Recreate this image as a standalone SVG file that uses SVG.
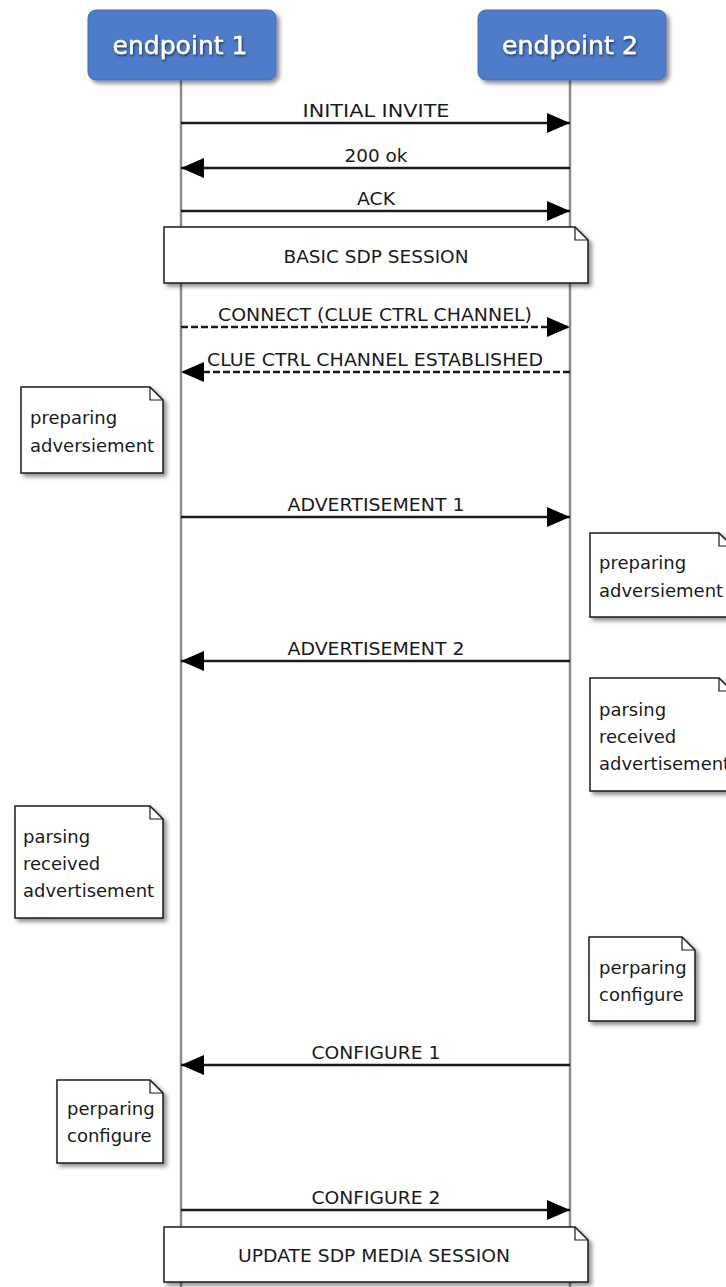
<svg xmlns="http://www.w3.org/2000/svg" width="726" height="1287" viewBox="0 0 726 1287">
<style>
.bg{fill:#ffffff}
.actor{fill:#4f7bc8;stroke:#4670b8;stroke-width:1}
.atext{font-family:"DejaVu Sans",sans-serif;font-size:25px;fill:#ffffff;stroke:#ffffff;stroke-width:0.4;text-anchor:middle}
.life{stroke:#8c8c8c;stroke-width:2.5;fill:none}
.msg{stroke:#1a1a1a;stroke-width:2.5;fill:none}
.dash{stroke-dasharray:7,3}
.lbl{font-family:"DejaVu Sans",sans-serif;font-size:18px;fill:#1a1a1a;text-anchor:middle}
.note{fill:#ffffff;stroke:#1a1a1a;stroke-width:1.5}
.fold{fill:none;stroke:#1a1a1a;stroke-width:1.2}
.ntext{font-family:"DejaVu Sans",sans-serif;font-size:18px;fill:#1a1a1a}
</style>
<defs>
<filter id="shadow" x="-10%" y="-10%" width="130%" height="140%">
<feDropShadow dx="3" dy="3" stdDeviation="2" flood-color="#000000" flood-opacity="0.45"/>
</filter>
<filter id="tshadow" x="-10%" y="-20%" width="120%" height="150%">
<feDropShadow dx="1" dy="1.5" stdDeviation="1" flood-color="#10204a" flood-opacity="0.8"/>
</filter>
<marker id="ah" viewBox="0 0 23 20" markerWidth="23" markerHeight="20" refX="23" refY="10" orient="auto" markerUnits="userSpaceOnUse">
<path d="M0,0 L23,10 L0,20 Z" fill="#000000"/>
</marker>
</defs>
<rect class="bg" x="0" y="0" width="726" height="1287"/>

<g id="lifelines">
<line class="life" x1="181" y1="80" x2="181" y2="1287"/>
<line class="life" x1="570" y1="80" x2="570" y2="1287"/>
</g>

<g id="endpoint1">
<rect class="actor" x="88" y="10" width="188" height="70" rx="8" filter="url(#shadow)"/>
<text class="atext" x="180" y="54" textLength="135" lengthAdjust="spacingAndGlyphs" filter="url(#tshadow)">endpoint 1</text>
</g>
<g id="endpoint2">
<rect class="actor" x="478" y="10" width="188" height="70" rx="8" filter="url(#shadow)"/>
<text class="atext" x="570" y="54" textLength="136" lengthAdjust="spacingAndGlyphs" filter="url(#tshadow)">endpoint 2</text>
</g>

<g id="connectors">
<line class="msg" x1="181" y1="123" x2="570" y2="123" marker-end="url(#ah)"/>
<text class="lbl" x="376" y="117" textLength="147" lengthAdjust="spacingAndGlyphs">INITIAL INVITE</text>
<line class="msg" x1="570" y1="168" x2="181" y2="168" marker-end="url(#ah)"/>
<text class="lbl" x="376" y="162" textLength="63" lengthAdjust="spacingAndGlyphs">200 ok</text>
<line class="msg" x1="181" y1="211" x2="570" y2="211" marker-end="url(#ah)"/>
<text class="lbl" x="376" y="205" textLength="38" lengthAdjust="spacingAndGlyphs">ACK</text>
<line class="msg dash" x1="181" y1="327" x2="570" y2="327" marker-end="url(#ah)"/>
<text class="lbl" x="375" y="321" textLength="314" lengthAdjust="spacingAndGlyphs">CONNECT (CLUE CTRL CHANNEL)</text>
<line class="msg dash" x1="570" y1="372" x2="181" y2="372" marker-end="url(#ah)"/>
<text class="lbl" x="375" y="366" textLength="336" lengthAdjust="spacingAndGlyphs">CLUE CTRL CHANNEL ESTABLISHED</text>
<line class="msg" x1="181" y1="517" x2="570" y2="517" marker-end="url(#ah)"/>
<text class="lbl" x="376" y="511" textLength="177" lengthAdjust="spacingAndGlyphs">ADVERTISEMENT 1</text>
<line class="msg" x1="570" y1="661" x2="181" y2="661" marker-end="url(#ah)"/>
<text class="lbl" x="376" y="655" textLength="177" lengthAdjust="spacingAndGlyphs">ADVERTISEMENT 2</text>
<line class="msg" x1="570" y1="1065" x2="181" y2="1065" marker-end="url(#ah)"/>
<text class="lbl" x="376" y="1059" textLength="129" lengthAdjust="spacingAndGlyphs">CONFIGURE 1</text>
<line class="msg" x1="181" y1="1210" x2="570" y2="1210" marker-end="url(#ah)"/>
<text class="lbl" x="376" y="1204" textLength="129" lengthAdjust="spacingAndGlyphs">CONFIGURE 2</text>
</g>

<g id="note-basic-sdp">
<path class="note" filter="url(#shadow)" d="M164,227 H575 L588,240 V283 H164 Z"/>
<path class="fold" d="M575,227 V240 H588"/>
<text class="lbl" x="376" y="263" textLength="185" lengthAdjust="spacingAndGlyphs">BASIC SDP SESSION</text>
</g>

<g id="note-ep1-preparing-adv">
<path class="note" filter="url(#shadow)" d="M21,387 H150 L163,400 V473 H21 Z"/>
<path class="fold" d="M150,387 V400 H163"/>
<text class="ntext" x="30" y="424">preparing</text>
<text class="ntext" x="30" y="452">adversiement</text>
</g>

<g id="note-ep2-preparing-adv">
<path class="note" filter="url(#shadow)" d="M590,533 H719 L732,546 V617 H590 Z"/>
<path class="fold" d="M719,533 V546 H732"/>
<text class="ntext" x="599" y="569">preparing</text>
<text class="ntext" x="599" y="597">adversiement</text>
</g>

<g id="note-ep2-parsing">
<path class="note" filter="url(#shadow)" d="M590,678 H719 L732,691 V791 H590 Z"/>
<path class="fold" d="M719,678 V691 H732"/>
<text class="ntext" x="599" y="716">parsing</text>
<text class="ntext" x="599" y="743">received</text>
<text class="ntext" x="599" y="770">advertisement</text>
</g>

<g id="note-ep1-parsing">
<path class="note" filter="url(#shadow)" d="M15,806 H150 L163,819 V918 H15 Z"/>
<path class="fold" d="M150,806 V819 H163"/>
<text class="ntext" x="23" y="843">parsing</text>
<text class="ntext" x="23" y="870">received</text>
<text class="ntext" x="23" y="897">advertisement</text>
</g>

<g id="note-ep2-configure">
<path class="note" filter="url(#shadow)" d="M589,937 H682 L695,950 V1021 H589 Z"/>
<path class="fold" d="M682,937 V950 H695"/>
<text class="ntext" x="599" y="974">perparing</text>
<text class="ntext" x="599" y="1001">configure</text>
</g>

<g id="note-ep1-configure">
<path class="note" filter="url(#shadow)" d="M57,1080 H150 L163,1093 V1163 H57 Z"/>
<path class="fold" d="M150,1080 V1093 H163"/>
<text class="ntext" x="67" y="1115">perparing</text>
<text class="ntext" x="67" y="1142">configure</text>
</g>

<g id="note-update-sdp">
<path class="note" filter="url(#shadow)" d="M164,1227 H575 L588,1240 V1282 H164 Z"/>
<path class="fold" d="M575,1227 V1240 H588"/>
<text class="lbl" x="374" y="1262" textLength="272" lengthAdjust="spacingAndGlyphs">UPDATE SDP MEDIA SESSION</text>
</g>
</svg>
